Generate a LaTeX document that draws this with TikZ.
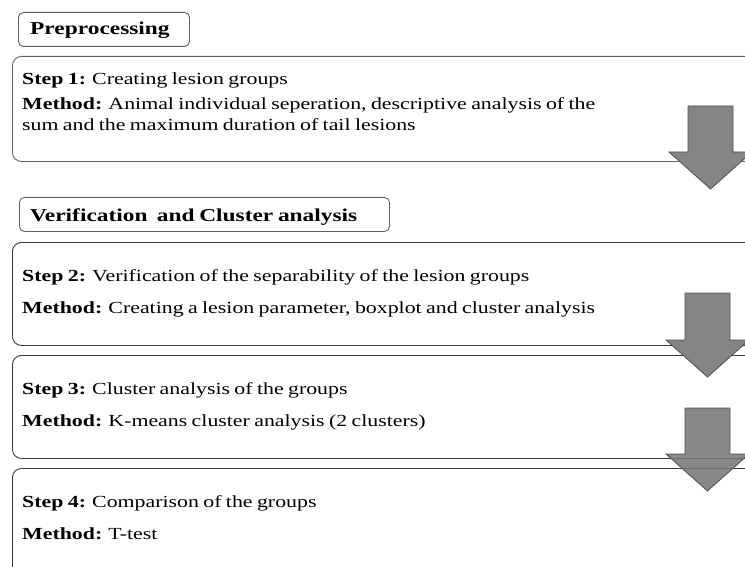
\documentclass[tikz,border=0pt]{standalone}
\usepackage{fontspec}
\setmainfont[FakeStretch=1.29,WordSpace=0.8]{Liberation Serif}
\usetikzlibrary{calc}
\definecolor{boxline}{HTML}{3A3A3A}
\definecolor{boxlinelight}{HTML}{606060}
\definecolor{arrowfill}{HTML}{858585}
\definecolor{arrowline}{HTML}{505050}
\tikzset{
  headbox/.style={draw=boxlinelight, line width=0.9bp, rounded corners=5bp, anchor=north west, inner sep=0pt},
  bodybox/.style={draw=boxline, line width=0.9bp, rounded corners=9bp, anchor=north west, inner sep=0pt, minimum width=760bp},
  headtxt/.style={anchor=base west, inner sep=0pt, font=\fontsize{18.2}{22}\selectfont\bfseries},
  bodytxt/.style={anchor=base west, inner sep=0pt, font=\fontsize{17}{20}\selectfont},
  blockarrow/.style={fill=arrowfill, draw=arrowline, line width=0.8bp, line join=miter},
}
% #2 centre x, #3 top, #4 head base, #5 tip, #6 shaft half width, #7 head half width
\newcommand{\blkarrow}[7][]{%
  \draw[blockarrow,#1] (#2-#6,#3) -- (#2+#6,#3) -- (#2+#6,#4) -- (#2+#7,#4) -- (#2,#5) -- (#2-#7,#4) -- (#2-#6,#4) -- cycle;}
\begin{document}
\begin{tikzpicture}[x=1bp,y=-1bp]
\useasboundingbox (0,0) rectangle (745,567);
\clip (0,0) rectangle (745,567);
% headers
\node[headbox, minimum width=171bp, minimum height=34bp] (h1) at (18,12) {};
\node[headtxt] (h1t) at (30,35) {Preprocessing};
\node[headbox, minimum width=370bp, minimum height=34bp] (h2) at (19,197) {};
\node[headtxt] (h2t) at (30,222) {Verification\ \ and Cluster analysis};
% body boxes
\node[bodybox, draw=boxlinelight, minimum height=105bp] (b1) at (12,56) {};
\node[bodytxt] (s1) at (22,85) {\textbf{Step 1:} Creating lesion groups};
\node[bodytxt] (m1) at (22,110) {\textbf{Method:} Animal individual seperation, descriptive analysis of the};
\node[bodytxt] (m1b) at (22,131) {sum and the maximum duration of tail lesions};
\node[bodybox, minimum height=103bp] (b2) at (12,242) {};
\node[bodytxt] (s2) at (22,281) {\textbf{Step 2:} Verification of the separability of the lesion groups};
\node[bodytxt] (m2) at (22,313) {\textbf{Method:} Creating a lesion parameter, boxplot and cluster analysis};
\node[bodybox, minimum height=103bp] (b3) at (12,355) {};
\node[bodytxt] (s3) at (22,394) {\textbf{Step 3:} Cluster analysis of the groups};
\node[bodytxt] (m3) at (22,426) {\textbf{Method:} K-means cluster analysis (2 clusters)};
\node[bodybox, minimum height=130bp] (b4) at (12,468) {};
\node[bodytxt] (s4) at (22,507) {\textbf{Step 4:} Comparison of the groups};
\node[bodytxt] (m4) at (22,539) {\textbf{Method:} T-test};
% block arrows
\blkarrow{710.5}{106}{152}{189}{22.5}{41.5}
\blkarrow{707.5}{293}{340}{377}{22.5}{41.5}
\blkarrow[fill=arrowfill!90!black, fill opacity=0.88]{707.5}{408}{454}{491}{22.5}{41.5}
\end{tikzpicture}
\end{document}
